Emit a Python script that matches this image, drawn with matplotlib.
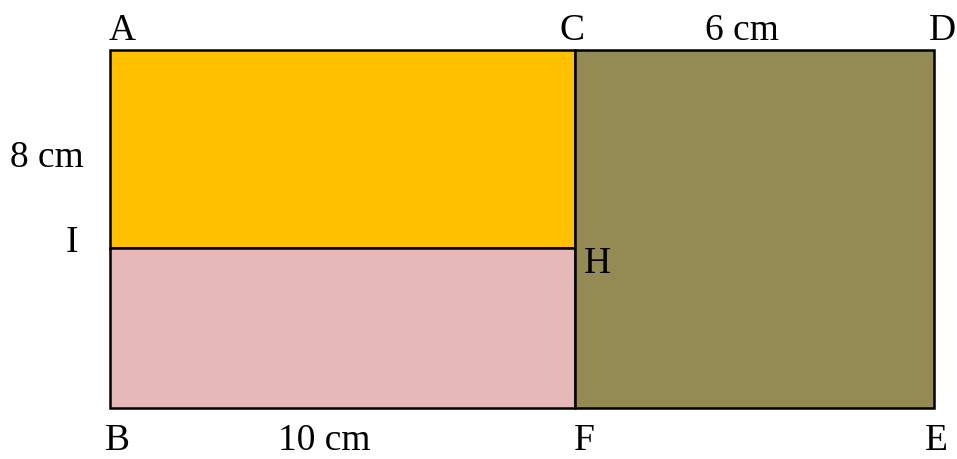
import matplotlib.pyplot as plt
from matplotlib.patches import Rectangle

# rectangle grid edges (picture units, y down)
x_edges = [110, 575, 934]
y_edges = [50, 248, 408]

# regions: (x0 index, x1 index, y0 index, y1 index, colour)
regions = [
    (0, 1, 0, 1, "#FFC000"),   # ACHI
    (0, 1, 1, 2, "#E6B8B7"),   # IHFB
    (1, 2, 0, 2, "#948A54"),   # CDEF
]

labels = ["A", "C", "6 cm", "D", "8 cm", "I", "H", "B", "10 cm", "F", "E"]
# anchor = horizontal centre, text baseline
label_xy = [(122, 40), (572, 40), (742, 40), (942, 40), (47, 167), (72, 252),
            (597, 273), (117, 450), (324, 450), (584, 450), (936, 450)]

fig = plt.figure(figsize=(9.57, 4.59), dpi=100)
ax = fig.add_axes([0, 0, 1, 1])
ax.set_xlim(0, 957)
ax.set_ylim(459, 0)
ax.axis("off")

for i0, i1, j0, j1, col in regions:
    ax.add_patch(Rectangle((x_edges[i0], y_edges[j0]),
                           x_edges[i1] - x_edges[i0], y_edges[j1] - y_edges[j0],
                           facecolor=col, edgecolor="black", linewidth=1.8))

for txt, (x, y) in zip(labels, label_xy):
    ax.text(x, y, txt, ha="center", va="baseline", fontsize=27,
            family="Liberation Serif", color="black")

plt.savefig("out.png", dpi=100)
